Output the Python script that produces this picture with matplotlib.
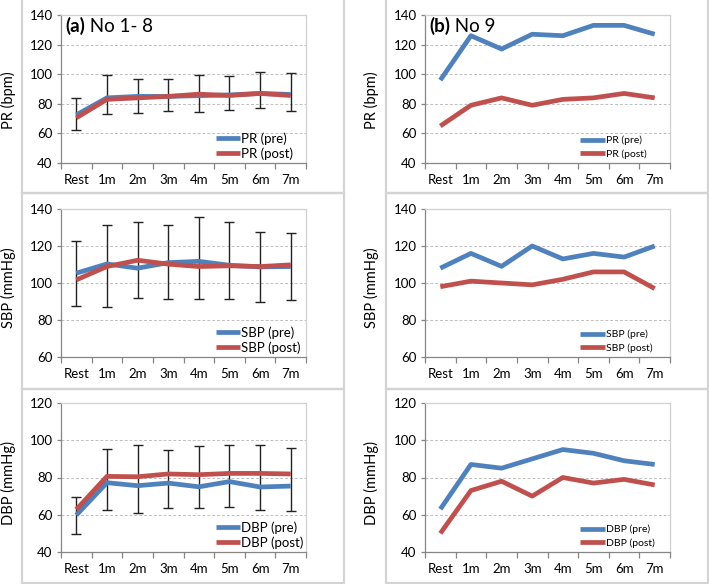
import numpy as np
import matplotlib
matplotlib.use('Agg')
import matplotlib.pyplot as plt
from matplotlib.patches import Rectangle

plt.rcParams['font.family'] = ['Lato', 'DejaVu Sans']

cats = ['Rest', '1m', '2m', '3m', '4m', '5m', '6m', '7m']

# (a) No 1-8, means and error bar extents
pr_a_pre = [72.5, 84, 85, 85, 85.5, 86, 87, 86.3]
pr_a_post = [70.5, 83, 84, 85, 86.5, 85.6, 87, 85.6]
pr_a_lo = [62, 72.8, 73.9, 75.3, 74.4, 75.7, 76.9, 74.8]
pr_a_hi = [83.6, 99.3, 96.9, 96.9, 99.3, 99.1, 101.6, 100.9]

sbp_a_pre = [105.3, 110.3, 108, 111, 111.7, 109.6, 108.7, 108.9]
sbp_a_post = [101.7, 108.9, 112.3, 110.2, 108.9, 109.3, 108.9, 109.8]
sbp_a_lo = [87.5, 87.1, 92, 91.5, 91.1, 91.1, 89.8, 90.9]
sbp_a_hi = [122.7, 131.5, 132.8, 131.2, 135.5, 132.8, 127.6, 126.9]

dbp_a_pre = [59.8, 77.2, 75.6, 77, 75, 77.8, 74.9, 75.4]
dbp_a_post = [62.8, 80.6, 80.4, 81.9, 81.5, 82.2, 82.2, 81.9]
dbp_a_lo = [49.7, 62.3, 61.2, 63.4, 63.7, 64.1, 62.5, 62.1]
dbp_a_hi = [69.5, 95.4, 97.5, 94.8, 96.8, 97.2, 97.2, 96.1]

# (b) No 9
pr_b_pre = [96, 126, 117, 127, 126, 133, 133, 127]
pr_b_post = [65, 79, 84, 79, 83, 84, 87, 84]
sbp_b_pre = [108, 116, 109, 120, 113, 116, 114, 120]
sbp_b_post = [98, 101, 100, 99, 102, 106, 106, 97]
dbp_b_pre = [63, 87, 85, 90, 95, 93, 89, 87]
dbp_b_post = [50, 73, 78, 70, 80, 77, 79, 76]

blue = '#4F81BD'
red = '#C0504D'
W, H = 709, 584

fig = plt.figure(figsize=(W / 100, H / 100), dpi=100)

# panel frames
for x0, x1 in [(22, 344), (386, 708)]:
    for y0, y1 in [(-3, 193), (193, 389), (389, 583)]:
        fig.patches.append(Rectangle((x0 / W, 1 - y1 / H), (x1 - x0) / W, (y1 - y0) / H,
                                     transform=fig.transFigure, fill=False,
                                     edgecolor='#D4D4D4', lw=1.6))

rows = [(15, 163), (209, 357), (403, 552)]
cols = [(61, 306), (425, 670)]
x = np.arange(len(cats))


def make_ax(col, row, ylim, yticks):
    (xa, xb), (ya, yb) = cols[col], rows[row]
    ax = fig.add_axes([xa / W, 1 - yb / H, (xb - xa) / W, (yb - ya) / H])
    ax.set_xlim(-0.5, 7.5)
    ax.set_ylim(*ylim)
    ax.set_yticks(yticks)
    ax.set_xticks(x)
    ax.set_xticklabels(cats)
    ax.set_xticks(np.arange(-0.5, 8, 1), minor=True)
    ax.tick_params(axis='x', which='major', length=0, pad=8, labelsize=9.5)
    ax.tick_params(axis='x', which='minor', length=4, color='#868686', width=0.9)
    ax.tick_params(axis='y', length=3, color='#868686', width=0.9, labelsize=9.5, pad=3)
    for s in ['left', 'bottom']:
        ax.spines[s].set_color('#868686')
        ax.spines[s].set_linewidth(0.9)
    for s in ['top', 'right']:
        ax.spines[s].set_color('#D0D0D0')
        ax.spines[s].set_linewidth(0.9)
    for yv in yticks[1:-1]:
        ax.axhline(yv, color='#BFBFBF', lw=0.7, ls=(0, (3, 2)), zorder=0)
    return ax


def plot_pair(ax, pre, post, name, lo=None, hi=None, small=False):
    if lo is not None:
        lo = np.array(lo)
        hi = np.array(hi)
        mid = (lo + hi) / 2
        ax.errorbar(x, mid, yerr=[mid - lo, hi - mid], fmt='none', ecolor='#222222',
                    elinewidth=1, capsize=3.5, capthick=1, zorder=2)
    ax.plot(x, pre, color=blue, lw=3.4, label=name + ' (pre)', zorder=3,
            solid_capstyle='butt')
    ax.plot(x, post, color=red, lw=3.4, label=name + ' (post)', zorder=4,
            solid_capstyle='butt')
    if small:
        ax.legend(loc='lower left', bbox_to_anchor=(0.6, -0.03), frameon=False,
                  fontsize=7.5, handlelength=2.4, handletextpad=0.1, labelspacing=0.4,
                  borderpad=0.3)
    else:
        ax.legend(loc='lower left', bbox_to_anchor=(0.59, -0.05), frameon=False,
                  fontsize=9.5, handlelength=1.8, handletextpad=0.1, labelspacing=0.2,
                  borderpad=0.3)


def title(ax, tag, rest):
    t = ax.text(0.018, 0.885, tag, transform=ax.transAxes, fontsize=13.5,
                fontweight='bold', va='baseline')
    ax.annotate(rest, xy=(1, 0), xycoords=t, fontsize=13.5, va='bottom')


ax = make_ax(0, 0, (40, 140), [40, 60, 80, 100, 120, 140])
plot_pair(ax, pr_a_pre, pr_a_post, 'PR', pr_a_lo, pr_a_hi)
title(ax, '(a)', ' No 1- 8')

ax = make_ax(1, 0, (40, 140), [40, 60, 80, 100, 120, 140])
plot_pair(ax, pr_b_pre, pr_b_post, 'PR', small=True)
title(ax, '(b)', ' No 9')

ax = make_ax(0, 1, (60, 140), [60, 80, 100, 120, 140])
plot_pair(ax, sbp_a_pre, sbp_a_post, 'SBP', sbp_a_lo, sbp_a_hi)

ax = make_ax(1, 1, (60, 140), [60, 80, 100, 120, 140])
plot_pair(ax, sbp_b_pre, sbp_b_post, 'SBP', small=True)

ax = make_ax(0, 2, (40, 120), [40, 60, 80, 100, 120])
plot_pair(ax, dbp_a_pre, dbp_a_post, 'DBP', dbp_a_lo, dbp_a_hi)

ax = make_ax(1, 2, (40, 120), [40, 60, 80, 100, 120])
plot_pair(ax, dbp_b_pre, dbp_b_post, 'DBP', small=True)

# y labels
ylabels = ['PR (bpm)', 'SBP (mmHg)', 'DBP (mmHg)']
ycent = [100, 288, 483]
for lab, yc in zip(ylabels, ycent):
    for xc in [8, 371]:
        fig.text(xc / W, 1 - yc / H, lab, rotation=90, ha='center', va='center',
                 fontsize=10.5)

fig.savefig('out.png', dpi=100)
